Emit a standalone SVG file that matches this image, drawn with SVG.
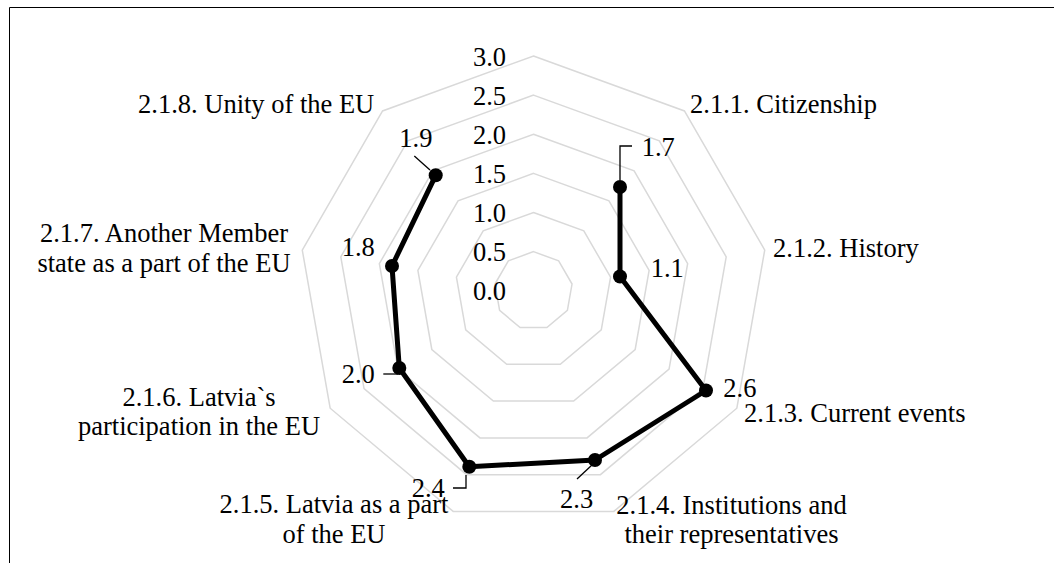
<svg xmlns="http://www.w3.org/2000/svg" width="1054" height="563" viewBox="0 0 1054 563">
<style>
text{font-family:"Liberation Serif","Times New Roman",serif;font-size:26.5px;fill:#000}
.grid{fill:none;stroke:#d9d9d9;stroke-width:1.5}
.mid{text-anchor:middle}
.end{text-anchor:end}
.lead{fill:none;stroke:#000;stroke-width:1.3}
.series{fill:none;stroke:#000;stroke-width:5;stroke-linejoin:round}
.pt{fill:#000}
</style>
<rect width="1054" height="563" fill="#fff"/>
<path d="M9.5,563 V7.5 H1054" fill="none" stroke="#000" stroke-width="1"/>
<g id="grid">
<polygon class="grid" points="533.5,251.67 558.65,260.83 572.04,284.01 567.39,310.37 546.88,327.57 520.12,327.57 499.61,310.37 494.96,284.01 508.35,260.83"/>
<polygon class="grid" points="533.5,212.53 583.81,230.84 610.58,277.21 601.28,329.94 560.27,364.35 506.73,364.35 465.72,329.94 456.42,277.21 483.19,230.84"/>
<polygon class="grid" points="533.5,173.4 608.96,200.87 649.12,270.42 635.17,349.5 573.65,401.12 493.35,401.12 431.83,349.5 417.88,270.42 458.04,200.87"/>
<polygon class="grid" points="533.5,134.27 634.12,170.9 687.65,263.63 669.06,369.07 587.03,437.89 479.97,437.89 397.94,369.07 379.35,263.63 432.88,170.9"/>
<polygon class="grid" points="533.5,95.13 659.28,140.92 726.2,256.83 702.95,388.64 600.42,474.67 466.58,474.67 364.05,388.64 340.8,256.83 407.72,140.92"/>
<polygon class="grid" points="533.5,56 684.43,110.94 764.73,250.04 736.84,408.2 613.8,511.44 453.2,511.44 330.16,408.2 302.27,250.04 382.57,110.94"/>
</g>
<g id="axis-labels">
<text class="end" x="506" y="66">3.0</text>
<text class="end" x="506" y="105">2.5</text>
<text class="end" x="506" y="144">2.0</text>
<text class="end" x="506" y="183">1.5</text>
<text class="end" x="506" y="222">1.0</text>
<text class="end" x="506" y="261">0.5</text>
<text class="end" x="506" y="300">0.0</text>
</g>
<g id="connectors">
<polyline class="series" points="620,187 620,276.5 706,390.5 595,460 469.3,466.7 399.3,368 392,266 435.7,175.3"/>
<path class="lead" d="M620,180 V146 H632"/>
<path class="lead" d="M577,479 L592,465"/>
<path class="lead" d="M453,488 H466 V475"/>
<path class="lead" d="M383.3,374 H398"/>
<path class="lead" d="M414.3,156 L430,170"/>
</g>
<g id="n1"><circle class="pt" cx="620" cy="187" r="7"/><text x="641.7" y="156">1.7</text><text x="690" y="113">2.1.1. Citizenship</text></g>
<g id="n2"><circle class="pt" cx="620" cy="276.5" r="7"/><text x="650.7" y="277">1.1</text><text x="773" y="257">2.1.2. History</text></g>
<g id="n3"><circle class="pt" cx="706" cy="390.5" r="7"/><text x="723.3" y="397">2.6</text><text x="744" y="422">2.1.3. Current events</text></g>
<g id="n4"><circle class="pt" cx="595" cy="460" r="7"/><text x="560" y="508">2.3</text><text class="mid" x="731.5" y="514">2.1.4. Institutions and</text><text class="mid" x="731.5" y="543.3">their representatives</text></g>
<g id="n5"><circle class="pt" cx="469.3" cy="466.7" r="7"/><text x="411.7" y="497">2.4</text><text class="mid" x="334" y="513.3">2.1.5. Latvia as a part</text><text class="mid" x="334" y="543.3">of the EU</text></g>
<g id="n6"><circle class="pt" cx="399.3" cy="368" r="7"/><text x="341.7" y="383.3">2.0</text><text class="mid" x="199" y="406">2.1.6. Latvia`s</text><text class="mid" x="199" y="435">participation in the EU</text></g>
<g id="n7"><circle class="pt" cx="392" cy="266" r="7"/><text x="341.7" y="256">1.8</text><text class="mid" x="164" y="241.7">2.1.7. Another Member</text><text class="mid" x="164" y="271.7">state as a part of the EU</text></g>
<g id="n8"><circle class="pt" cx="435.7" cy="175.3" r="7"/><text x="399.3" y="147">1.9</text><text x="138" y="113">2.1.8. Unity of the EU</text></g>
</svg>
